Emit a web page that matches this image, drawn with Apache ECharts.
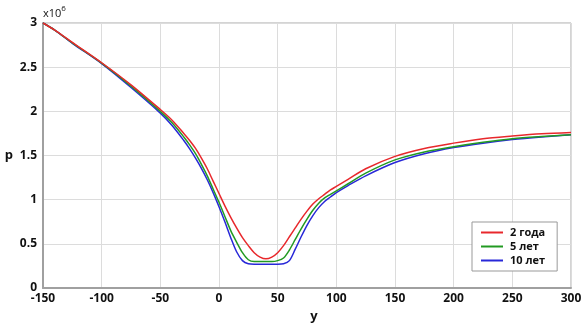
<!DOCTYPE html>
<html>
<head>
<meta charset="utf-8">
<script src="https://cdn.jsdelivr.net/npm/echarts@6/dist/echarts.min.js"></script>
<style>
  html, body { margin: 0; padding: 0; background: #fff; }
  #chart { width: 586px; height: 328px; }
</style>
</head>
<body>
<div id="chart"></div>
<script>
// y positions (x axis), p in units of 1e6
var ys = [-150, -140, -125, -100, -75, -50, -40, -30, -25, -20, -15, -10, -5, 0, 5, 10, 15, 20, 25, 30,
    35, 40, 45, 50, 55, 60, 65, 70, 75, 80, 85, 90, 95, 100, 110, 125, 150, 175, 200, 225, 250, 275, 300];

var p2 = [3.0, 2.92, 2.78, 2.55, 2.30, 2.02, 1.90, 1.75, 1.67, 1.58, 1.47, 1.35, 1.21, 1.07, 0.93, 0.80, 0.68, 0.57, 0.48, 0.40,
    0.35, 0.33, 0.35, 0.40, 0.48, 0.58, 0.68, 0.78, 0.87, 0.95, 1.01, 1.06, 1.11, 1.15, 1.23, 1.35, 1.49, 1.58, 1.64, 1.69, 1.72, 1.745, 1.76];

var p5 = [3.0, 2.92, 2.775, 2.545, 2.285, 2.00, 1.87, 1.71, 1.62, 1.52, 1.40, 1.27, 1.12, 0.97, 0.81, 0.65, 0.52, 0.40, 0.32, 0.30,
    0.30, 0.30, 0.30, 0.31, 0.34, 0.43, 0.55, 0.67, 0.78, 0.88, 0.96, 1.02, 1.06, 1.10, 1.18, 1.30, 1.45, 1.54, 1.60, 1.65, 1.69, 1.715, 1.735];

var p10 = [3.0, 2.92, 2.77, 2.54, 2.27, 1.98, 1.84, 1.67, 1.575, 1.47, 1.355, 1.225, 1.08, 0.92, 0.75, 0.57, 0.41, 0.31, 0.275, 0.27,
    0.27, 0.27, 0.27, 0.27, 0.275, 0.31, 0.44, 0.58, 0.71, 0.82, 0.91, 0.98, 1.03, 1.08, 1.16, 1.27, 1.42, 1.52, 1.59, 1.64, 1.68, 1.71, 1.735];

var names = ['2 года', '5 лет', '10 лет'];
var colors = ['#e8282c', '#229a22', '#2828d8'];

function pairs(vals) {
    return ys.map(function (y, i) { return [y, vals[i]]; });
}

var chart = echarts.init(document.getElementById('chart'), null, { renderer: 'canvas' });

var axisFont = { fontFamily: 'Open Sans', fontWeight: 'bold', fontSize: 12, color: '#111' };

var series = [p2, p5, p10].map(function (vals, i) {
    return {
        name: names[i],
        type: 'line',
        data: pairs(vals),
        smooth: 0.3,
        showSymbol: false,
        lineStyle: { color: colors[i], width: 1.5 },
        itemStyle: { color: colors[i] },
        z: 10 - i
    };
});

chart.setOption({
    animation: false,
    grid: { left: 43, right: 15, top: 23, bottom: 39, show: true, borderColor: '#a8a8a8', borderWidth: 1 },
    xAxis: {
        type: 'value', min: -150, max: 300, interval: 50,
        name: 'y', nameLocation: 'middle', nameGap: 22,
        nameTextStyle: { fontFamily: 'Open Sans', fontWeight: 'bold', fontSize: 13, color: '#111', padding: [0, 0, 0, 14] },
        axisLine: { onZero: false, lineStyle: { color: '#a0a0a0', width: 2 } },
        axisTick: { show: false },
        axisLabel: Object.assign({ margin: 5 }, axisFont),
        splitLine: { lineStyle: { color: '#dcdcdc' } }
    },
    yAxis: {
        type: 'value', min: 0, max: 3, interval: 0.5,
        name: 'p', nameLocation: 'middle', nameGap: 30, nameRotate: 0,
        nameTextStyle: { fontFamily: 'Open Sans', fontWeight: 'bold', fontSize: 13, color: '#111' },
        axisLine: { show: true, onZero: false, lineStyle: { color: '#a0a0a0', width: 2 } },
        axisTick: { show: false },
        axisLabel: Object.assign({ margin: 6 }, axisFont),
        splitLine: { lineStyle: { color: '#dcdcdc' } }
    },
    legend: {
        orient: 'vertical',
        left: 472, top: 222,
        data: names,
        backgroundColor: '#fff',
        borderColor: '#999',
        borderWidth: 1,
        padding: [5, 12, 5, 9],
        itemGap: 3,
        itemWidth: 22,
        itemHeight: 2,
        icon: 'rect',
        selectedMode: false,
        textStyle: { fontFamily: 'Open Sans', fontWeight: 'bold', fontSize: 11, color: '#111', padding: [0, 0, 0, 2] }
    },
    graphic: [{
        type: 'text',
        left: 43, top: 5,
        style: {
            text: '{a|x10}{b|6}',
            rich: {
                a: { fontFamily: 'Open Sans', fontSize: 11, fill: '#111', verticalAlign: 'bottom' },
                b: { fontFamily: 'Open Sans', fontSize: 8, fill: '#111', verticalAlign: 'top', padding: [0, 0, 6, 0] }
            }
        }
    }],
    series: series
});
</script>
</body>
</html>
